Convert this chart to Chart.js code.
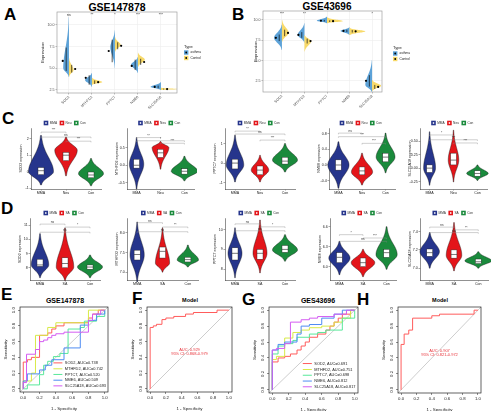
<!DOCTYPE html>
<html>
<head>
<meta charset="utf-8">
<script src="https://cdn.jsdelivr.net/npm/chart.js@4.4.1/dist/chart.umd.min.js"></script>
<style>
  html, body { margin: 0; padding: 0; background: #fff; }
  body { width: 500px; height: 411px; position: relative; overflow: hidden; font-family: "Liberation Sans", Arial, sans-serif; }
  canvas { position: absolute; }
  .tag { position: absolute; font-weight: bold; font-size: 17px; line-height: 17px; color: #000; }
  .ttl { position: absolute; font-weight: bold; color: #000; white-space: nowrap; transform: translateX(-50%); line-height: 1; }
</style>
</head>
<body>
<div class="tag" style="left:4px;top:6px">A</div>
<div class="tag" style="left:232px;top:6px">B</div>
<div class="tag" style="left:2px;top:110px">C</div>
<div class="tag" style="left:1px;top:200px">D</div>
<div class="tag" style="left:1px;top:286px">E</div>
<div class="tag" style="left:132px;top:290px">F</div>
<div class="tag" style="left:242px;top:291px">G</div>
<div class="tag" style="left:357px;top:291px">H</div>
<div class="ttl" style="left:117px;top:2px;font-size:10.5px">GSE147878</div>
<div class="ttl" style="left:327px;top:2px;font-size:10px">GSE43696</div>
<div class="ttl" style="left:65px;top:297px;font-size:7px">GSE147878</div>
<div class="ttl" style="left:318px;top:297px;font-size:7px">GES43696</div>
<div class="ttl" style="left:190px;top:298px;font-size:5.5px">Model</div>
<div class="ttl" style="left:440px;top:298px;font-size:5.5px">Model</div>
<script>
// ---------- данные ----------
const genes = ['SOD2', 'MTHFD2', 'PPTC7', 'NME6', 'SLC25A18'];
const typeNames = ['asthma', 'Control'];
const abTicks = [2.5, 5.0, 7.5, 10.0];

// split violins: [min, peak, max, mean, errLow, errHigh, halfWidth]
const gse147Asthma = [
  [4.0, 5.0, 10.9, 5.85, 4.7, 7.4, 0.25],
  [2.85, 3.65, 4.46, 3.9, 3.1, 4.2, 0.3],
  [5.0, 7.46, 9.4, 7.0, 5.7, 8.3, 0.2],
  [4.46, 5.4, 6.3, 5.27, 4.8, 6.0, 0.3],
  [2.5, 2.85, 3.4, 2.85, 2.7, 3.0, 0.45]
];
const gse147Control = [
  [4.0, 4.8, 6.2, 4.92, 4.5, 5.4, 0.2],
  [3.1, 3.4, 3.9, 3.4, 3.2, 3.6, 0.45],
  [6.9, 7.7, 8.6, 7.6, 7.2, 8.0, 0.25],
  [5.15, 6.0, 6.8, 5.73, 5.4, 6.1, 0.3],
  [2.5, 2.6, 2.75, 2.6, 2.55, 2.65, 0.8]
];
const gse147Sig = ['ns', '**', '*', '***', '***'];

const gse43Asthma = [
  [6.3, 7.8, 9.4, 7.8, 7.4, 8.2, 0.35],
  [7.2, 8.15, 9.6, 8.15, 7.8, 8.5, 0.3],
  [9.6, 9.9, 10.4, 9.9, 9.8, 10.0, 0.45],
  [8.15, 8.65, 9.1, 8.65, 8.5, 8.8, 0.4],
  [1.1, 2.0, 5.05, 2.5, 1.8, 3.2, 0.3]
];
const gse43Control = [
  [7.3, 8.4, 10.0, 8.4, 8.0, 8.8, 0.3],
  [6.1, 7.4, 8.15, 7.4, 7.1, 7.7, 0.3],
  [9.6, 9.85, 10.3, 9.85, 9.75, 9.95, 0.7],
  [8.15, 8.6, 9.0, 8.6, 8.45, 8.75, 0.7],
  [1.25, 1.9, 2.6, 1.75, 1.5, 2.0, 0.4]
];
const gse43Sig = ['***', '**', '', '', '*'];

const groupsC = ['MMA', 'Neu', 'Con'];
const groupsD = ['MMA', 'SA', 'Con'];
const yTitles = ['SOD2 expression', 'MTHFD2 expression', 'PPTC7 expression', 'NME6 expression', 'SLC25A18 expression'];

// violins: [min, peak, max, q1, median, q3, halfWidth]
const cSOD2 = [[-0.8, 0.0, 2.2, -0.18, 0.06, 0.25, 0.5], [-0.25, 1.3, 2.1, 0.67, 1.0, 1.17, 0.45], [-0.86, -0.12, 0.8, -0.37, -0.2, -0.02, 0.5]];
const cMTHFD2 = [[-0.67, 0.03, 0.78, -0.08, 0.0, 0.17, 0.3], [-0.11, 0.5, 0.67, 0.22, 0.35, 0.45, 0.35], [-0.44, -0.17, 0.25, -0.25, -0.17, -0.1, 0.55]];
const cPPTC7 = [[-0.97, -0.1, 1.43, -0.3, 0.0, 0.2, 0.35], [-0.97, -0.36, 0.4, -0.6, -0.36, -0.15, 0.35], [-0.46, 0.15, 1.0, -0.05, 0.1, 0.3, 0.5]];
const cNME6 = [[-0.59, 0.0, 0.59, -0.13, 0.0, 0.13, 0.45], [-0.51, -0.18, 0.3, -0.25, -0.15, -0.05, 0.45], [-0.2, 0.2, 0.81, 0.08, 0.2, 0.3, 0.4]];
const cSLC25A18 = [[-0.32, 0.0, 0.68, -0.08, 0.0, 0.06, 0.25], [-0.26, 0.15, 0.71, 0.06, 0.15, 0.28, 0.22], [-0.23, -0.1, 0.06, -0.15, -0.1, -0.05, 0.45]];

const dSOD2 = [[7.3, 8.2, 10.4, 8.1, 8.2, 8.6, 0.35], [7.1, 8.05, 10.8, 8.0, 8.3, 8.7, 0.35], [7.3, 8.05, 8.9, 7.9, 8.05, 8.2, 0.5]];
const dMTHFD2 = [[6.75, 7.44, 8.28, 7.31, 7.45, 7.56, 0.28], [7.0, 7.23, 8.13, 7.36, 7.53, 7.64, 0.28], [7.13, 7.31, 7.69, 7.26, 7.32, 7.38, 0.42]];
const dPPTC7 = [[7.55, 8.8, 10.1, 8.46, 8.8, 9.08, 0.28], [7.8, 8.8, 10.5, 8.5, 8.8, 9.0, 0.28], [8.4, 8.97, 9.75, 8.85, 9.0, 9.2, 0.5]];
const dNME6 = [[5.88, 6.13, 6.38, 6.06, 6.14, 6.21, 0.45], [5.85, 6.06, 6.26, 6.0, 6.06, 6.13, 0.5], [5.96, 6.18, 6.6, 6.14, 6.21, 6.26, 0.45]];
const dSLC25A18 = [[7.0, 7.18, 7.39, 7.13, 7.17, 7.21, 0.4], [6.97, 7.14, 7.5, 7.11, 7.15, 7.2, 0.32], [7.0, 7.08, 7.18, 7.05, 7.07, 7.1, 0.55]];

const cTicks = [[-1, 0, 1, 2], [-0.5, 0, 0.5], [-1, 0, 1], [-0.4, 0, 0.4, 0.8], [-0.25, 0, 0.25, 0.5]];
const cLimits = [[-1.05, 2.65], [-0.67, 1.05], [-1.33, 1.8], [-0.61, 0.94], [-0.39, 0.75]];
const cDecimals = [0, 1, 0, 1, 2];
const dTicks = [[8, 9, 10, 11], [7.0, 7.5, 8.0], [8, 9, 10], [6.0, 6.3, 6.6], [7.0, 7.2, 7.4]];
const dLimits = [[7.14, 11.5], [6.8, 8.38], [7.44, 10.6], [5.8, 6.73], [6.87, 7.55]];
const dDecimals = [0, 1, 0, 1, 1];

// brackets: [from, to, value, label]
const cBrackets = [
  [[0, 1, 2.4, '***'], [0, 2, 2.1, 'ns'], [1, 2, 1.85, '***']],
  [[0, 1, 0.78, '**'], [0, 2, 0.69, '*'], [1, 2, 0.62, '***']],
  [[0, 1, 1.64, '**'], [0, 2, 1.49, 'ns'], [1, 2, 1.18, '***']],
  [[0, 1, 0.81, 'ns'], [0, 2, 0.72, '***'], [1, 2, 0.55, '***']],
  [[0, 1, 0.62, '*'], [0, 2, 0.53, '***'], [1, 2, 0.47, '***']]
];
const dBrackets = [
  [[0, 1, 11.07, 'ns'], [1, 2, 10.86, '*'], [0, 2, 10.5, 'ns']],
  [[0, 1, 8.26, 'ns'], [1, 2, 8.15, '**'], [0, 2, 8.03, 'ns']],
  [[0, 1, 10.3, 'ns'], [1, 2, 10.15, '*'], [0, 2, 9.95, 'ns']],
  [[0, 1, 6.48, '*'], [1, 2, 6.43, '***'], [0, 2, 6.38, 'ns']],
  [[0, 1, 7.45, 'ns'], [1, 2, 7.42, '**'], [0, 2, 7.39, 'ns']]
];

// ROC: [1 - specificity, sensitivity]
const e147SOD2 = [[0, 0], [0, 0.34], [0.05, 0.37], [0.1, 0.4], [0.2, 0.68], [0.3, 0.71], [0.35, 0.76], [0.4, 0.8], [0.5, 0.84], [0.8, 0.9], [0.85, 0.95], [0.92, 1], [1, 1]];
const e147MTHFD2 = [[0, 0], [0, 0.1], [0.1, 0.2], [0.15, 0.68], [0.3, 0.78], [0.4, 0.84], [0.8, 1], [1, 1]];
const e147PPTC7 = [[0, 0], [0.05, 0.05], [0.2, 0.18], [0.25, 0.3], [0.3, 0.35], [0.37, 0.41], [0.45, 0.45], [0.55, 0.76], [0.7, 0.78], [0.75, 0.86], [0.9, 0.92], [1, 0.95], [1, 1]];
const e147NME6 = [[0, 0], [0, 0.1], [0.05, 0.19], [0.2, 0.24], [0.27, 0.3], [0.35, 0.37], [0.5, 0.52], [0.7, 0.81], [0.8, 0.87], [0.9, 0.95], [1, 1]];
const e147SLC25A18 = [[0, 0], [0, 0.08], [0.04, 0.44], [0.15, 0.5], [0.2, 0.6], [0.25, 0.62], [0.3, 0.65], [0.35, 0.68], [0.4, 0.7], [0.5, 0.72], [0.8, 0.87], [0.85, 0.95], [0.95, 1], [1, 1]];
const e147Auc = [0.738, 0.742, 0.520, 0.509, 0.693];

const g43SOD2 = [[0, 0], [0, 0.35], [0.07, 0.4], [0.15, 0.42], [0.22, 0.45], [0.3, 0.5], [0.35, 0.55], [0.4, 0.6], [0.45, 0.66], [0.55, 0.7], [0.65, 0.75], [0.7, 0.8], [0.75, 0.85], [0.8, 0.9], [0.85, 0.95], [0.95, 1], [1, 1]];
const g43MTHFD2 = [[0, 0], [0, 0.38], [0.05, 0.42], [0.15, 0.65], [0.25, 0.72], [0.35, 0.75], [0.45, 0.78], [0.6, 0.8], [0.75, 0.85], [0.85, 0.9], [0.95, 1], [1, 1]];
const g43PPTC7 = [[0, 0], [0, 0.45], [0.07, 0.55], [0.15, 0.58], [0.25, 0.62], [0.3, 0.66], [0.45, 0.7], [0.55, 0.72], [0.65, 0.75], [0.85, 0.8], [0.85, 0.9], [1, 0.95], [1, 1]];
const g43NME6 = [[0, 0], [0, 0.5], [0.07, 0.57], [0.15, 0.6], [0.3, 0.7], [0.35, 0.8], [0.45, 0.82], [0.6, 0.9], [0.75, 0.95], [0.85, 1], [1, 1]];
const g43SLC25A18 = [[0, 0], [0, 0.5], [0.05, 0.52], [0.15, 0.58], [0.22, 0.85], [0.35, 0.88], [0.45, 0.9], [0.55, 0.92], [0.75, 0.95], [0.9, 1], [1, 1]];
const g43Auc = [0.691, 0.751, 0.698, 0.812, 0.817];

const f147Model = [[0, 0], [0, 0.78], [0.04, 0.8], [0.08, 0.82], [0.15, 0.88], [0.2, 0.9], [0.3, 0.92], [0.45, 0.95], [0.55, 0.97], [0.85, 1], [1, 1]];
const h43Model = [[0, 0], [0, 0.57], [0.04, 0.7], [0.1, 0.75], [0.15, 0.9], [0.4, 0.93], [0.5, 0.95], [0.95, 1], [1, 1]];
const modelAuc = ['AUC: 0.929', 'AUC: 0.907'];
const modelCi = ['95% CI: 0.868-0.979', '95% CI: 0.821-0.972'];
const rocTicks = [0, 0.2, 0.4, 0.6, 0.8, 1.0];
const rocLimits = [-0.04, 1.04];

// ---------- стили ----------
const FONT = '"Liberation Sans", Arial, sans-serif';
Chart.defaults.font.family = FONT;
Chart.defaults.color = '#222';
const typeColors = ['rgba(74,152,212,0.9)', 'rgba(247,214,90,0.9)'];
const groupColors = ['#26358C', '#E3151A', '#1A8A3C'];
const rocColors = ['#FF5C5C', '#D8EA48', '#58E89A', '#4E8CF2', '#D45CF2'];

// ---------- помощники ----------
function mkCanvas(area, pad) {
  const c = document.createElement('canvas');
  const w = Math.round(area.r - area.l + pad.l + pad.r);
  const h = Math.round(area.b - area.t + pad.t + pad.b);
  c.width = w; c.height = h;
  c.style.width = w + 'px'; c.style.height = h + 'px';
  c.style.left = Math.round(area.l - pad.l) + 'px';
  c.style.top = Math.round(area.t - pad.t) + 'px';
  document.body.appendChild(c);
  return c;
}
function zeroPad(s) { s.paddingLeft = s.paddingRight = s.paddingTop = s.paddingBottom = 0; }
function tickList(vals, lo, hi) {
  return vals.filter(v => v >= lo - 1e-9 && v <= hi + 1e-9).map(v => ({ value: v }));
}
function baseOptions(pad) {
  return {
    responsive: false, animation: false, events: [],
    layout: { padding: { left: 0, top: pad.t, right: pad.r, bottom: 0 } },
    plugins: { legend: { display: false }, tooltip: { enabled: false }, title: { display: false } }
  };
}
function profile(lo, pk, hi, hw) {
  const out = [];
  const n = 48;
  for (let k = 0; k <= n; k++) {
    const v = lo + (hi - lo) * k / n;
    const t = v < pk ? (pk - v) / Math.max(pk - lo, 1e-9) : (v - pk) / Math.max(hi - pk, 1e-9);
    out.push([v, hw * Math.exp(-3.2 * t * t)]);
  }
  return out;
}

// рамка вокруг области графика
function frameLayer(color, width) {
  return {
    id: 'frame',
    afterDatasetsDraw(chart) {
      const { ctx, chartArea: a } = chart;
      ctx.save();
      ctx.strokeStyle = color; ctx.lineWidth = width;
      ctx.strokeRect(a.left, a.top, a.right - a.left, a.bottom - a.top);
      ctx.restore();
    }
  };
}

// половинки скрипок (A, B)
function splitViolinLayer(asthma, control, sig) {
  return {
    id: 'splitViolins',
    beforeDatasetsDraw(chart) {
      const { ctx, chartArea: a, scales: { x, y } } = chart;
      ctx.save();
      ctx.beginPath(); ctx.rect(a.left, a.top, a.right - a.left, a.bottom - a.top); ctx.clip();
      [[asthma, -1, typeColors[0]], [control, 1, typeColors[1]]].forEach(([rows, side, col]) => {
        rows.forEach((r, i) => {
          const [lo, pk, hi, , eLo, eHi, hw] = r;
          ctx.beginPath();
          ctx.moveTo(x.getPixelForValue(i), y.getPixelForValue(lo));
          profile(lo, pk, hi, hw).forEach(([v, w]) => ctx.lineTo(x.getPixelForValue(i + side * w), y.getPixelForValue(v)));
          ctx.lineTo(x.getPixelForValue(i), y.getPixelForValue(hi));
          ctx.closePath();
          ctx.fillStyle = col; ctx.fill();
          const ex = x.getPixelForValue(i + side * 0.12);
          ctx.strokeStyle = '#111'; ctx.lineWidth = 0.7;
          ctx.beginPath(); ctx.moveTo(ex, y.getPixelForValue(eLo)); ctx.lineTo(ex, y.getPixelForValue(eHi)); ctx.stroke();
        });
      });
      ctx.restore();
      ctx.save();
      ctx.font = '3.5px ' + FONT; ctx.fillStyle = '#222'; ctx.textAlign = 'center'; ctx.textBaseline = 'top';
      sig.forEach((s, i) => ctx.fillText(s, x.getPixelForValue(i), a.top + 1.5));
      ctx.restore();
    }
  };
}

function typeLegend(dx, dy) {
  return {
    id: 'typeLegend',
    afterDraw(chart) {
      const { ctx, chartArea: a } = chart;
      const x0 = a.right + dx, y0 = a.top + dy;
      ctx.save();
      ctx.font = '4px ' + FONT; ctx.fillStyle = '#222'; ctx.textBaseline = 'middle';
      ctx.fillText('Type', x0, y0);
      typeNames.forEach((n, k) => {
        const yy = y0 + 5.5 + k * 5.5;
        ctx.fillStyle = typeColors[k]; ctx.fillRect(x0, yy - 2.2, 4.4, 4.4);
        ctx.fillStyle = '#000'; ctx.beginPath(); ctx.arc(x0 + 2.2, yy, 0.9, 0, Math.PI * 2); ctx.fill();
        ctx.font = '3.2px ' + FONT; ctx.fillStyle = '#222';
        ctx.fillText(n, x0 + 6.5, yy);
      });
      ctx.restore();
    }
  };
}

// полные скрипки с боксами (C, D)
function violinLayer(rows, brackets, groups) {
  return {
    id: 'violins',
    beforeDatasetsDraw(chart) {
      const { ctx, scales: { x, y } } = chart;
      ctx.save();
      rows.forEach((r, i) => {
        const [lo, pk, hi, q1, med, q3, hw] = r;
        const pr = profile(lo, pk, hi, hw);
        ctx.beginPath();
        pr.forEach(([v, w], k) => {
          const px = x.getPixelForValue(i + w), py = y.getPixelForValue(v);
          k ? ctx.lineTo(px, py) : ctx.moveTo(px, py);
        });
        for (let k = pr.length - 1; k >= 0; k--) ctx.lineTo(x.getPixelForValue(i - pr[k][1]), y.getPixelForValue(pr[k][0]));
        ctx.closePath();
        ctx.fillStyle = groupColors[i]; ctx.fill();
        ctx.strokeStyle = '#111'; ctx.lineWidth = 0.4; ctx.stroke();
        const bl = x.getPixelForValue(i - 0.12), br = x.getPixelForValue(i + 0.12);
        const bt = y.getPixelForValue(q3), bb = y.getPixelForValue(q1);
        ctx.fillStyle = '#fff'; ctx.fillRect(bl, bt, br - bl, bb - bt);
        ctx.strokeStyle = '#222'; ctx.lineWidth = 0.4; ctx.strokeRect(bl, bt, br - bl, bb - bt);
        ctx.lineWidth = 0.6;
        ctx.beginPath(); ctx.moveTo(bl, y.getPixelForValue(med)); ctx.lineTo(br, y.getPixelForValue(med)); ctx.stroke();
      });
      ctx.restore();
    },
    afterDatasetsDraw(chart) {
      const { ctx, chartArea: a, scales: { x, y } } = chart;
      ctx.save();
      ctx.strokeStyle = '#888'; ctx.lineWidth = 0.4;
      ctx.font = '3.2px ' + FONT; ctx.fillStyle = '#333'; ctx.textAlign = 'center'; ctx.textBaseline = 'bottom';
      brackets.forEach(([i, j, v, lab]) => {
        const x1 = x.getPixelForValue(i), x2 = x.getPixelForValue(j), yy = y.getPixelForValue(v);
        ctx.beginPath(); ctx.moveTo(x1, yy + 1.2); ctx.lineTo(x1, yy); ctx.lineTo(x2, yy); ctx.lineTo(x2, yy + 1.2); ctx.stroke();
        ctx.fillText(lab, (x1 + x2) / 2, yy - 0.3);
      });
      // легенда групп над панелью
      const cx = (a.left + a.right) / 2, ly = a.top - 5;
      ctx.font = '3.2px ' + FONT; ctx.textBaseline = 'middle'; ctx.textAlign = 'left';
      const widths = groups.map(g => 6 + ctx.measureText(g).width + 2.5);
      let lx = cx - widths.reduce((s, w) => s + w, 0) / 2;
      groups.forEach((g, k) => {
        ctx.fillStyle = groupColors[k]; ctx.fillRect(lx, ly - 2.3, 4.6, 4.6);
        ctx.fillStyle = '#fff'; ctx.fillRect(lx + 1.6, ly - 0.8, 1.4, 1.6);
        ctx.fillStyle = '#333'; ctx.fillText(g, lx + 6, ly);
        lx += widths[k];
      });
      ctx.restore();
    }
  };
}

// подписи оси Y в стиле R (повёрнутые)
function rotYTicks(off, size) {
  return {
    id: 'rotYTicks',
    afterDraw(chart) {
      const { ctx, chartArea: a, scales: { y } } = chart;
      ctx.save();
      ctx.font = size + 'px ' + FONT; ctx.fillStyle = '#222'; ctx.textAlign = 'center'; ctx.textBaseline = 'middle';
      y.ticks.forEach(t => {
        ctx.save();
        ctx.translate(a.left - off, y.getPixelForValue(t.value));
        ctx.rotate(-Math.PI / 2);
        ctx.fillText(t.value.toFixed(1), 0, 0);
        ctx.restore();
      });
      ctx.restore();
    }
  };
}

function rocLegend(aucs) {
  return {
    id: 'rocLegend',
    afterDatasetsDraw(chart) {
      const { ctx, scales: { x, y } } = chart;
      ctx.save();
      ctx.font = '3.9px ' + FONT; ctx.textBaseline = 'middle'; ctx.fillStyle = '#222';
      const rowsY = [0.33, 0.255, 0.183, 0.11, 0.038];
      genes.forEach((g, k) => {
        const yy = y.getPixelForValue(rowsY[k]);
        ctx.strokeStyle = rocColors[k]; ctx.lineWidth = 1;
        ctx.beginPath(); ctx.moveTo(x.getPixelForValue(0.37), yy); ctx.lineTo(x.getPixelForValue(0.48), yy); ctx.stroke();
        ctx.fillText(g + ', AUC=' + aucs[k].toFixed(3), x.getPixelForValue(0.51), yy);
      });
      ctx.restore();
    }
  };
}

function aucText(k) {
  return {
    id: 'aucText',
    afterDatasetsDraw(chart) {
      const { ctx, scales: { x, y } } = chart;
      ctx.save();
      ctx.font = '4px ' + FONT; ctx.fillStyle = '#E8333A'; ctx.textAlign = 'center'; ctx.textBaseline = 'middle';
      ctx.fillText(modelAuc[k], x.getPixelForValue(0.5), y.getPixelForValue(0.49));
      ctx.fillText(modelCi[k], x.getPixelForValue(0.5), y.getPixelForValue(0.44));
      ctx.restore();
    }
  };
}

// ---------- A, B ----------
function splitChart(area, pad, asthma, control, sig, yLim, xLim, leg) {
  const opts = baseOptions(pad);
  opts.scales = {
    x: {
      type: 'linear', min: xLim[0], max: xLim[1],
      afterBuildTicks: s => { s.ticks = genes.map((g, i) => ({ value: i })); },
      afterFit: s => { s.height = pad.b; zeroPad(s); },
      ticks: { callback: v => genes[v], minRotation: 45, maxRotation: 45, autoSkip: false, font: { size: 3.6 }, color: '#4D4D4D', padding: 0.5 },
      grid: { color: '#EDEDED', lineWidth: 0.6, tickLength: 1.5, tickColor: '#555', tickWidth: 0.4 },
      border: { display: false }
    },
    y: {
      type: 'linear', min: yLim[0], max: yLim[1],
      afterBuildTicks: s => { s.ticks = tickList(abTicks, yLim[0], yLim[1]); },
      afterFit: s => { s.width = pad.l; zeroPad(s); },
      ticks: { callback: v => v.toFixed(1), font: { size: 3.6 }, color: '#4D4D4D', padding: 1 },
      grid: { color: '#EDEDED', lineWidth: 0.6, tickLength: 1.5, tickColor: '#555', tickWidth: 0.4 },
      border: { display: false },
      title: { display: true, text: 'Expression', font: { size: 4.2 }, color: '#222', padding: 0 }
    }
  };
  return new Chart(mkCanvas(area, pad), {
    type: 'scatter',
    data: {
      datasets: [
        { data: asthma.map((r, i) => ({ x: i - 0.27, y: r[3] })), pointRadius: 1.1, backgroundColor: '#000', borderWidth: 0 },
        { data: control.map((r, i) => ({ x: i + 0.27, y: r[3] })), pointRadius: 1.1, backgroundColor: '#000', borderWidth: 0 }
      ]
    },
    options: opts,
    plugins: [splitViolinLayer(asthma, control, sig), frameLayer('#A0A0A0', 0.7), typeLegend(leg[0], leg[1])]
  });
}

splitChart({ l: 57, t: 12, r: 177, b: 93 }, { l: 17, t: 12, r: 40, b: 22 }, gse147Asthma, gse147Control, gse147Sig, [2.15, 11.5], [-0.52, 4.7], [7, 35]);
splitChart({ l: 263, t: 11, r: 382, b: 92 }, { l: 10, t: 11, r: 40, b: 22 }, gse43Asthma, gse43Control, gse43Sig, [1.13, 11.1], [-0.84, 4.44], [11, 37]);

// ---------- C, D ----------
function violinChart(area, pad, rows, groups, ticks, lim, dec, brackets, title) {
  const opts = baseOptions(pad);
  opts.scales = {
    x: {
      type: 'linear', min: -0.4, max: 2.4,
      afterBuildTicks: s => { s.ticks = groups.map((g, i) => ({ value: i })); },
      afterFit: s => { s.height = pad.b; zeroPad(s); },
      ticks: { callback: v => groups[v], maxRotation: 0, autoSkip: false, font: { size: 3.6 }, color: '#222', padding: 0.8 },
      grid: { drawOnChartArea: false, tickLength: 1.5, tickColor: '#222', tickWidth: 0.4 },
      border: { display: true, color: '#222', width: 0.5 }
    },
    y: {
      type: 'linear', min: lim[0], max: lim[1],
      afterBuildTicks: s => { s.ticks = tickList(ticks, lim[0], lim[1]); },
      afterFit: s => { s.width = pad.l; zeroPad(s); },
      ticks: { callback: v => v.toFixed(dec), font: { size: 3.6 }, color: '#222', padding: 0.8 },
      grid: { drawOnChartArea: false, tickLength: 1.5, tickColor: '#222', tickWidth: 0.4 },
      border: { display: true, color: '#222', width: 0.5 },
      title: { display: true, text: title, font: { size: 3.6 }, color: '#222', padding: 0 }
    }
  };
  return new Chart(mkCanvas(area, pad), {
    type: 'scatter',
    data: { datasets: [] },
    options: opts,
    plugins: [violinLayer(rows, brackets, groups)]
  });
}

const cRows = [cSOD2, cMTHFD2, cPPTC7, cNME6, cSLC25A18];
const dRows = [dSOD2, dMTHFD2, dPPTC7, dNME6, dSLC25A18];
const cLeft = [31, 127, 225, 329, 420];
const cWidth = [70, 67, 70, 66, 67];
const dLeft = [30, 127, 225, 330, 420];
const dWidth = [70, 71, 70, 66, 68];
cRows.forEach((rows, k) => {
  violinChart({ l: cLeft[k], t: 128, r: cLeft[k] + cWidth[k], b: 189 }, { l: 12, t: 10, r: 3, b: 9 },
    rows, groupsC, cTicks[k], cLimits[k], cDecimals[k], cBrackets[k], yTitles[k]);
});
dRows.forEach((rows, k) => {
  violinChart({ l: dLeft[k], t: 218, r: dLeft[k] + dWidth[k], b: 280 }, { l: 12, t: 10, r: 3, b: 9 },
    rows, groupsD, dTicks[k], dLimits[k], dDecimals[k], dBrackets[k], yTitles[k]);
});

// ---------- E, F, G, H ----------
function rocChart(area, series, colors, extra) {
  const pad = { l: 17, t: 2, r: 2, b: 19 };
  const opts = baseOptions(pad);
  opts.elements = { line: { borderWidth: 1 }, point: { radius: 0 } };
  opts.scales = {
    x: {
      type: 'linear', min: rocLimits[0], max: rocLimits[1],
      afterBuildTicks: s => { s.ticks = rocTicks.map(v => ({ value: v })); },
      afterFit: s => { s.height = pad.b; zeroPad(s); },
      ticks: { callback: v => v.toFixed(1), maxRotation: 0, autoSkip: false, font: { size: 4.3 }, color: '#222', padding: 1.5 },
      grid: { drawOnChartArea: false, tickLength: 2, tickColor: '#222', tickWidth: 0.5 },
      border: { display: false },
      title: { display: true, text: '1 - Specificity', font: { size: 4.4 }, color: '#222', padding: 0 }
    },
    y: {
      type: 'linear', min: rocLimits[0], max: rocLimits[1],
      afterBuildTicks: s => { s.ticks = rocTicks.map(v => ({ value: v })); },
      afterFit: s => { s.width = pad.l; zeroPad(s); },
      ticks: { display: false },
      grid: { drawOnChartArea: false, tickLength: 2, tickColor: '#222', tickWidth: 0.5 },
      border: { display: false },
      title: { display: true, text: 'Sensitivity', font: { size: 4.4 }, color: '#222', padding: 0 }
    }
  };
  const datasets = [{
    data: rocLimits.map(v => ({ x: v, y: v })), borderColor: '#B8B8B8', borderWidth: 0.7, showLine: true, order: 10
  }];
  series.forEach((s, k) => datasets.push({
    data: s.map(([fx, ty]) => ({ x: fx, y: ty })), borderColor: colors[k], showLine: true, stepped: 'before', order: 5 - k
  }));
  return new Chart(mkCanvas(area, pad), {
    type: 'scatter',
    data: { datasets },
    options: opts,
    plugins: [frameLayer('#222', 0.7), rotYTicks(6.5, 4.3)].concat(extra)
  });
}

rocChart({ l: 20, t: 307, r: 108, b: 392 }, [e147SOD2, e147MTHFD2, e147PPTC7, e147NME6, e147SLC25A18], rocColors, [rocLegend(e147Auc)]);
rocChart({ l: 147, t: 307, r: 232, b: 392 }, [f147Model], ['#FF5C5C'], [aucText(0)]);
rocChart({ l: 269, t: 307, r: 358, b: 393 }, [g43SOD2, g43MTHFD2, g43PPTC7, g43NME6, g43SLC25A18], rocColors, [rocLegend(g43Auc)]);
rocChart({ l: 398, t: 307, r: 481, b: 393 }, [h43Model], ['#FF5C5C'], [aucText(1)]);
</script>
</body>
</html>
